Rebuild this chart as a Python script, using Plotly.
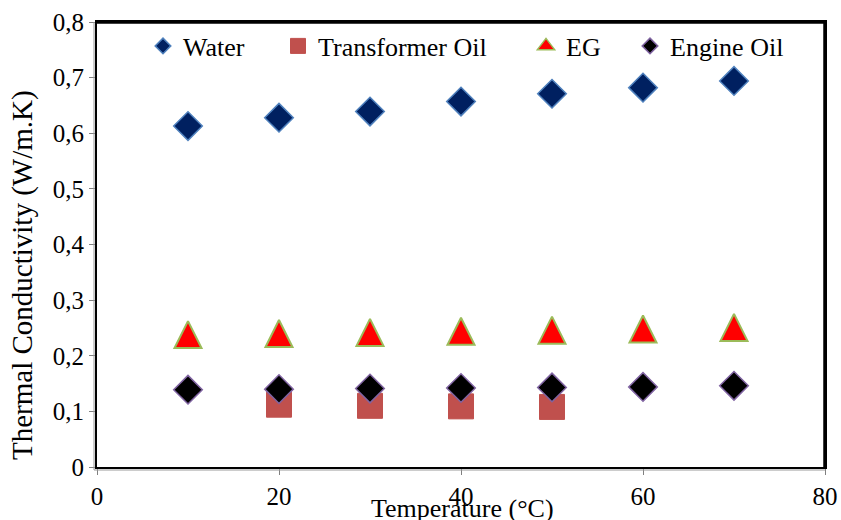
import plotly.graph_objects as go

temps = [10, 20, 30, 40, 50, 60, 70]
water = [0.613, 0.628, 0.639, 0.657, 0.671, 0.682, 0.694]
trans_temps = [20, 30, 40, 50]
trans_oil = [0.112, 0.110, 0.109, 0.108]
eg = [0.238, 0.240, 0.242, 0.244, 0.246, 0.248, 0.251]
engine_oil = [0.139, 0.140, 0.141, 0.142, 0.143, 0.144, 0.146]

y_ticks = [0, 0.1, 0.2, 0.3, 0.4, 0.5, 0.6, 0.7, 0.8]
y_ticktext = ["0", "0,1", "0,2", "0,3", "0,4", "0,5", "0,6", "0,7", "0,8"]
x_ticks = [0, 20, 40, 60, 80]
x_ticktext = ["0", "20", "40", "60", "80"]

FONT = "Liberation Serif, Times New Roman, serif"

# page geometry (body margin is removed by the post script below)
W, H = 841, 520
# plot-area edges in page pixels
L, R, T, B = 97, 825, 22, 467

series = [
    ("Water", temps, water,
     dict(symbol="diamond", size=22, color="#002060", line=dict(color="#4F81BD", width=1.5)),
     dict(symbol="diamond", size=12, color="#002060", line=dict(color="#4F81BD", width=1.5)),
     "legend", 183),
    ("Transformer Oil", trans_temps, trans_oil,
     dict(symbol="square", size=25, color="#C0504D", line=dict(color="#C0504D", width=1)),
     dict(symbol="square", size=15, color="#C0504D", line=dict(color="#C0504D", width=1)),
     "legend2", 318),
    ("EG", temps, eg,
     dict(symbol="arrow-down", angle=180, standoff=13.5, size=27, color="#FF0000",
          line=dict(color="#9BBB59", width=2)),
     dict(symbol="triangle-up", size=15, color="#FF0000", line=dict(color="#9BBB59", width=1.5)),
     "legend3", 566),
    ("Engine Oil", temps, engine_oil,
     dict(symbol="diamond", size=22, color="#000000", line=dict(color="#8064A2", width=1.5)),
     dict(symbol="diamond", size=12, color="#000000", line=dict(color="#8064A2", width=1.5)),
     "legend4", 670),
]

fig = go.Figure()
legend_layouts = {}
for name, xs, ys, mk, lmk, lg, tx in series:
    fig.add_trace(go.Scatter(x=xs, y=ys, mode="markers", name=name, marker=mk,
                             showlegend=False, hoverinfo="x+y"))
    fig.add_trace(go.Scatter(x=[None], y=[None], mode="markers", name=name, marker=lmk,
                             showlegend=True, legend=lg))
    legend_layouts[lg] = dict(
        xref="container", yref="container",
        x=(tx - 40) / W, y=1 - 46 / H, xanchor="left", yanchor="middle",
        bgcolor="rgba(0,0,0,0)", borderwidth=0,
        font=dict(family=FONT, size=26, color="#000000"),
        orientation="h",
    )

fig.update_layout(
    width=W, height=H,
    margin=dict(l=L, r=W - R, t=T, b=H - B, autoexpand=False),
    paper_bgcolor="white", plot_bgcolor="white",
    font=dict(family=FONT, size=25, color="#000000"),
    xaxis=dict(range=[0, 80], tickvals=x_ticks, ticktext=x_ticktext,
               showgrid=False, zeroline=False, ticks="outside", ticklen=6,
               tickcolor="#808080", showline=True, linecolor="#000000", linewidth=2,
               mirror=True, tickfont=dict(family=FONT, size=25)),
    yaxis=dict(range=[0, 0.8], tickvals=y_ticks, ticktext=y_ticktext,
               showgrid=False, zeroline=False, ticks="outside", ticklen=6,
               tickcolor="#808080", showline=True, linecolor="#000000", linewidth=2,
               mirror=True, tickfont=dict(family=FONT, size=25)),
    **legend_layouts,
)

pw, ph = R - L, B - T
# frame: heavy top/right edges, grey shadow lines outside left/bottom
fig.add_shape(type="line", xref="paper", yref="paper", x0=0, x1=1, y0=1, y1=1,
              line=dict(color="#000000", width=3.5))
fig.add_shape(type="line", xref="paper", yref="paper", x0=1, x1=1, y0=0, y1=1,
              line=dict(color="#000000", width=3.5))
fig.add_shape(type="line", xref="paper", yref="paper", x0=-3 / pw, x1=-3 / pw, y0=-3 / ph, y1=1,
              line=dict(color="#9a9a9a", width=1))
fig.add_shape(type="line", xref="paper", yref="paper", x0=-3 / pw, x1=1, y0=-3 / ph, y1=-3 / ph,
              line=dict(color="#9a9a9a", width=1))

fig.add_annotation(text="Thermal Conductivity (W/m.K)", textangle=-90,
                   xref="paper", yref="paper",
                   x=(22 - L) / pw, y=(B - 275) / ph,
                   xanchor="center", yanchor="middle", showarrow=False,
                   font=dict(family=FONT, size=29, color="#000000"))
fig.add_annotation(text="Temperature (°C)", xref="paper", yref="paper",
                   x=(462 - L) / pw, y=(B - 508) / ph,
                   xanchor="center", yanchor="middle", showarrow=False,
                   font=dict(family=FONT, size=26, color="#000000"))

fig.write_html("out.html", config={"displayModeBar": False},
               post_script="document.body.style.margin='0px';document.body.style.overflow='hidden';")
